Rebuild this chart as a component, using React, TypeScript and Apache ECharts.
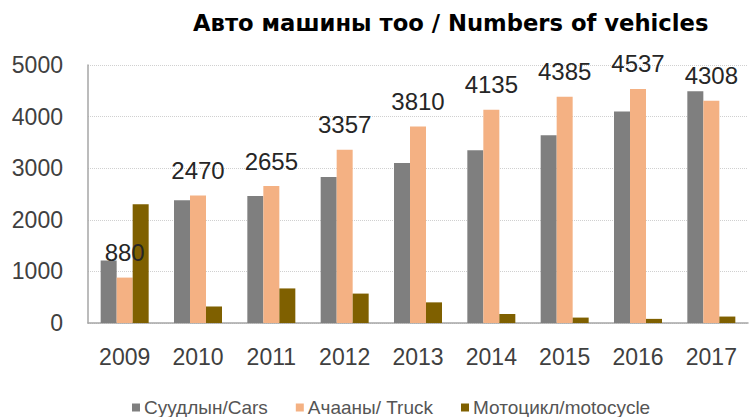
import React, { useEffect, useRef } from "react";
import * as echarts from "echarts";

const years = ["2009", "2010", "2011", "2012", "2013", "2014", "2015", "2016", "2017"];
const cars = [1210, 2380, 2460, 2830, 3100, 3350, 3640, 4100, 4490];
const trucks = [880, 2470, 2655, 3357, 3810, 4135, 4385, 4537, 4308];
const motos = [2300, 320, 670, 570, 400, 175, 105, 80, 125];
const seriesNames = ["Суудлын/Cars", "Ачааны/ Truck", "Мотоцикл/motocycle"];
const titleText = "Авто машины тоо / Numbers of vehicles";

export default function App() {
  const ref = useRef<HTMLDivElement>(null);
  useEffect(() => {
    if (!ref.current) return;
    const chart = echarts.init(ref.current, undefined, { renderer: "svg" });
    const labelFont = "'Liberation Sans', Arial, sans-serif";
    chart.setOption({
      animation: false,
      backgroundColor: "#ffffff",
      title: {
        text: titleText,
        left: 188,
        top: 6,
        textStyle: {
          fontFamily: "'DejaVu Sans', sans-serif",
          fontWeight: "bold",
          fontSize: 22.7,
          color: "#000000",
        },
      },
      legend: {
        top: 393,
        left: 127,
        itemWidth: 8,
        itemHeight: 8,
        itemGap: 28,
        icon: "rect",
        textStyle: { fontFamily: labelFont, fontSize: 19, color: "#555555", padding: [0, 0, 0, -1] },
        data: seriesNames,
      },
      grid: { left: 88, right: 1, top: 65, bottom: 94, containLabel: false },
      xAxis: {
        type: "category",
        data: years,
        axisLine: { lineStyle: { color: "#a6a6a6", width: 1.5 } },
        axisTick: { show: false },
        axisLabel: { fontFamily: labelFont, fontSize: 23, color: "#404040", margin: 22 },
      },
      yAxis: {
        type: "value",
        min: 0,
        max: 5000,
        interval: 1000,
        axisLine: { show: true, lineStyle: { color: "#a6a6a6", width: 1.5 } },
        axisTick: { show: false },
        axisLabel: {
          fontFamily: labelFont,
          fontSize: 23,
          color: "#404040",
          margin: 25,
          formatter: (v: number) => String(v),
        },
        splitLine: { lineStyle: { color: "#d0d0d0", type: "dotted" } },
      },
      series: [
        {
          name: seriesNames[0],
          type: "bar",
          data: cars,
          barWidth: 16,
          barGap: "0%",
          itemStyle: { color: "#7f7f7f" },
        },
        {
          name: seriesNames[1],
          type: "bar",
          data: trucks,
          barWidth: 16,
          barGap: "0%",
          itemStyle: { color: "#f4b183" },
          label: {
            show: true,
            position: "top",
            distance: 13,
            fontFamily: labelFont,
            fontSize: 24,
            color: "#262626",
          },
        },
        {
          name: seriesNames[2],
          type: "bar",
          data: motos,
          barWidth: 16,
          barGap: "0%",
          itemStyle: { color: "#7f6000" },
        },
      ],
    });
    return () => chart.dispose();
  }, []);
  return (
    <div
      ref={ref}
      style={{ position: "absolute", left: 0, top: 0, width: 749, height: 417 }}
    />
  );
}
